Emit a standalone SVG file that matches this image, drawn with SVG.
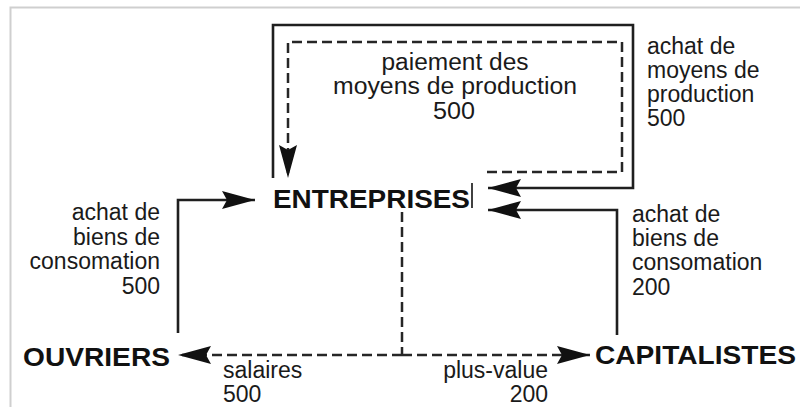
<svg xmlns="http://www.w3.org/2000/svg" width="800" height="407" viewBox="0 0 800 407">
<style>
.t{font-family:"Liberation Sans",Arial,Helvetica,sans-serif;font-size:23px;fill:#1a1a1a}
.b{font-family:"Liberation Sans",Arial,Helvetica,sans-serif;font-size:26px;font-weight:bold;fill:#111}
.s{fill:none;stroke:#1f1f1f;stroke-width:2.6}
.d{fill:none;stroke:#262626;stroke-width:2.5;stroke-dasharray:10 5}
.e{text-anchor:end}
.m{text-anchor:middle}
</style>
<defs>
<marker id="ah" viewBox="0 0 34 20" refX="33" refY="10" markerWidth="34" markerHeight="20" markerUnits="userSpaceOnUse" orient="auto">
<path d="M0,1 L33,10 L0,19 L5,10 Z" fill="#111"/>
</marker>
</defs>
<rect width="800" height="407" fill="#fff"/>
<path d="M10.5,407 V7.5 H800" fill="none" stroke="#cfcfcf" stroke-width="2"/>
<g id="connectors">
<path class="s" d="M273,178 V25 H633 V188 H488" marker-end="url(#ah)"/>
<path class="d" d="M487,172 H622 V42 H288 V178" marker-end="url(#ah)"/>
<path class="s" d="M178,333 V200 H255" marker-end="url(#ah)"/>
<path class="s" d="M617,335 V210 H488" marker-end="url(#ah)"/>
<path class="d" d="M402,212 V355"/>
<path class="d" d="M402,355 H178" marker-end="url(#ah)"/>
<path class="d" d="M402,355 H590" marker-end="url(#ah)"/>
<line x1="472" y1="183" x2="472" y2="208" stroke="#111" stroke-width="1.6"/>
</g>
<g id="entreprises"><text class="b" x="273" y="208" textLength="197" lengthAdjust="spacingAndGlyphs">ENTREPRISES</text></g>
<g id="ouvriers"><text class="b" x="23" y="366" textLength="147" lengthAdjust="spacingAndGlyphs">OUVRIERS</text></g>
<g id="capitalistes"><text class="b" x="595" y="364" textLength="201" lengthAdjust="spacingAndGlyphs">CAPITALISTES</text></g>
<g id="label-paiement">
<text class="t m" x="455" y="70" textLength="147" lengthAdjust="spacingAndGlyphs">paiement des</text>
<text class="t m" x="455" y="94" textLength="244" lengthAdjust="spacingAndGlyphs">moyens de production</text>
<text class="t m" x="454" y="119" textLength="42" lengthAdjust="spacingAndGlyphs">500</text>
</g>
<g id="label-achat-moyens">
<text class="t" x="647" y="54">achat de</text>
<text class="t" x="647" y="78">moyens de</text>
<text class="t" x="647" y="102">production</text>
<text class="t" x="647" y="126">500</text>
</g>
<g id="label-achat-ouvriers">
<text class="t e" x="160" y="220">achat de</text>
<text class="t e" x="160" y="245">biens de</text>
<text class="t e" x="160" y="269">consomation</text>
<text class="t e" x="160" y="294">500</text>
</g>
<g id="label-achat-capitalistes">
<text class="t" x="632" y="222">achat de</text>
<text class="t" x="632" y="246">biens de</text>
<text class="t" x="632" y="270">consomation</text>
<text class="t" x="632" y="295">200</text>
</g>
<g id="label-salaires">
<text class="t" x="223" y="378">salaires</text>
<text class="t" x="223" y="402">500</text>
</g>
<g id="label-plusvalue">
<text class="t e" x="548" y="378">plus-value</text>
<text class="t e" x="548" y="402">200</text>
</g>
</svg>
